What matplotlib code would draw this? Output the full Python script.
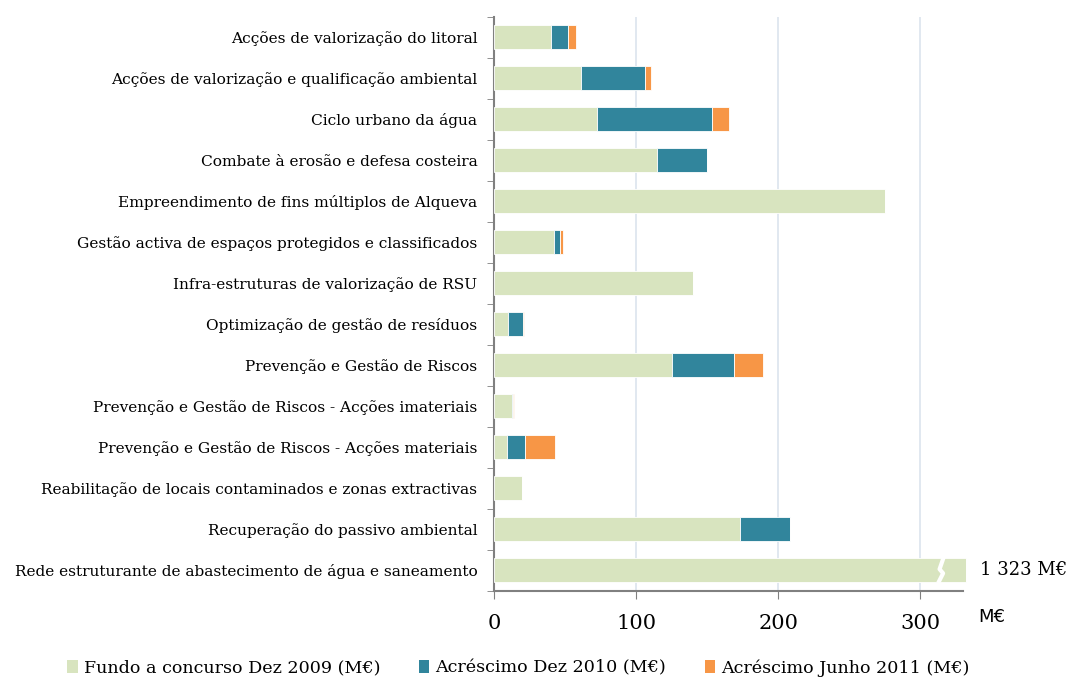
import numpy as np
import matplotlib
matplotlib.use("Agg")
import matplotlib.pyplot as plt
from matplotlib.patches import Patch

plt.rcParams['font.family'] = ['DejaVu Serif']

categories = [
    "Acções de valorização do litoral",
    "Acções de valorização e qualificação ambiental",
    "Ciclo urbano da água",
    "Combate à erosão e defesa costeira",
    "Empreendimento de fins múltiplos de Alqueva",
    "Gestão activa de espaços protegidos e classificados",
    "Infra-estruturas de valorização de RSU",
    "Optimização de gestão de resíduos",
    "Prevenção e Gestão de Riscos",
    "Prevenção e Gestão de Riscos - Acções imateriais",
    "Prevenção e Gestão de Riscos - Acções materiais",
    "Reabilitação de locais contaminados e zonas extractivas",
    "Recuperação do passivo ambiental",
    "Rede estruturante de abastecimento de água e saneamento",
]
fundo_2009 = [40.1, 61.4, 72.7, 114.4, 275.0, 42.2, 139.7, 9.8, 125.2, 12.4, 9.1, 19.7, 173.0, 1323.0]
acresc_2010 = [12.0, 44.8, 80.8, 35.2, 0, 4.2, 0, 10.8, 43.6, 1.0, 12.7, 0, 35.4, 0]
acresc_2011 = [5.5, 4.2, 12.2, 0, 0, 1.9, 0, 0.7, 20.6, 0.7, 20.9, 0, 0, 0]
series_names = ["Fundo a concurso Dez 2009 (M€)", "Acréscimo Dez 2010 (M€)",
                "Acréscimo Junho 2011 (M€)"]
colors = ["#D8E4BF", "#31859C", "#F79646"]
x_ticks = [0, 100, 200, 300]
total_label = "1 323 M€"

XMAX = 330
fig = plt.figure(figsize=(10.71, 6.8), dpi=100)
ax = fig.add_axes([494/1071, 1 - 590.5/680, (963 - 494)/1071, (590.5 - 16.5)/680])

y = np.arange(len(categories))
# the big bar is cut at the axis edge and marked with a break
shown = np.minimum(np.array(fundo_2009), XMAX + 2)
left = np.zeros(len(categories))
for vals, c in zip([shown, acresc_2010, acresc_2011], colors):
    ax.barh(y, vals, left=left, height=0.6, color=c, edgecolor='white',
            linewidth=0.6, clip_on=False, zorder=3)
    left = left + np.array(vals)

# break mark on the cut bar
iy = len(categories) - 1
bx = 314
ax.plot([bx + 2.5, bx - 0.5, bx + 2.0, bx - 1.5],
        [iy - 0.32, iy - 0.02, iy + 0.08, iy + 0.32],
        color='white', lw=3, zorder=4, solid_capstyle='butt')
ax.text(XMAX + 12, iy, total_label, va='center', ha='left', fontsize=13)

ax.set_xlim(0, XMAX)
ax.set_ylim(len(categories) - 0.5, -0.5)
ax.set_yticks(y)
ax.set_yticklabels(categories, fontsize=11.1)
ax.set_yticks(np.arange(-0.5, len(categories)), minor=True)
ax.tick_params(axis='y', which='major', length=0, pad=12)
ax.tick_params(axis='y', which='minor', length=5, color='#808080', direction='out')
ax.set_xticks(x_ticks)
ax.tick_params(axis='x', length=6, color='#808080', labelsize=15, pad=11)
ax.xaxis.grid(True, color='#DCE4EE', lw=1.2, zorder=0)
ax.set_axisbelow(True)
for s in ['top', 'right']:
    ax.spines[s].set_visible(False)
for s in ['left', 'bottom']:
    ax.spines[s].set_color('#808080')
    ax.spines[s].set_linewidth(1.5)

fig.text(978/1071, 1 - 617/680, "M€", fontsize=13, family='DejaVu Sans',
         va='center', ha='left')

handles = [Patch(facecolor=c, edgecolor='none') for c in colors]
fig.legend(handles, series_names, loc='center', bbox_to_anchor=(518.5/1071, 1 - 668/680),
           ncol=3, frameon=False, fontsize=12.6, handlelength=0.6, handleheight=0.8,
           handletextpad=0.35, columnspacing=2.2)

fig.savefig("out.png", dpi=100)
